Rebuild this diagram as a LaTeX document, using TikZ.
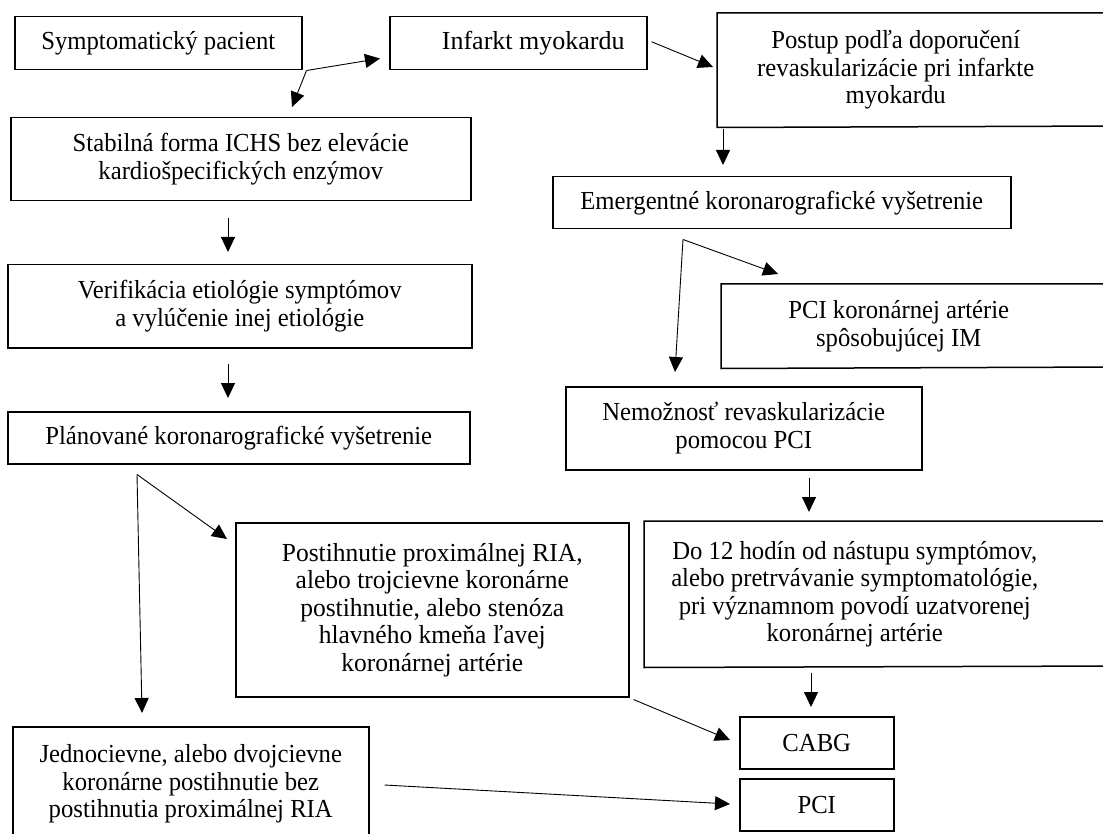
\documentclass[tikz,border=0pt]{standalone}
\usepackage{fontspec}
\setmainfont{Liberation Serif}[FakeStretch=0.95]
\newfontfamily\widerfont{Liberation Serif}[FakeStretch=1.0]
\newfontfamily\midfont{Liberation Serif}[FakeStretch=0.98]
\usetikzlibrary{arrows.meta,calc}
\begin{document}
\begin{tikzpicture}[x=1pt,y=-1pt,
  box/.style={draw, line width=1.5pt, anchor=north west, align=center, inner sep=0pt,
    font=\fontsize{26}{27.5}\selectfont},
  openbox/.style={box, draw=none},
  edge/.style={line width=1.5pt},
  arr/.style={line width=0.9pt, -{Triangle[length=15pt,width=14pt]}}]
\useasboundingbox (0,0) rectangle (1103,834);
\clip (0,0) rectangle (1103,834);
% left column
\node[box, minimum width=287pt, minimum height=53pt] (sym) at (14,16) {Symptomatický pacient};
\node[box, minimum width=460pt, minimum height=83pt] (stab) at (10,117) {Stabilná forma ICHS bez elevácie\\kardiošpecifických enzýmov};
\node[box, minimum width=464pt, minimum height=83pt] (verif) at (7,264) {Verifikácia etiológie symptómov\\a vylúčenie inej etiológie};
\node[box, minimum width=462pt, minimum height=52pt] (plan) at (7,411) {Plánované koronarografické vyšetrenie};
\node[box, minimum width=393pt, minimum height=174pt, font=\fontsize{26}{27.5}\midfont] (postih) at (235,522) {Postihnutie proximálnej RIA,\\alebo trojcievne koronárne\\postihnutie, alebo stenóza\\hlavného kmeňa ľavej\\koronárnej artérie};
\node[box, minimum width=356pt, minimum height=114pt] (jedn) at (12,726) {Jednocievne, alebo dvojcievne\\koronárne postihnutie bez\\postihnutia proximálnej RIA};
% right column
\node[box, minimum width=257pt, minimum height=53pt, font=\fontsize{26}{27.5}\widerfont] (inf) at (389,16) {\hspace*{30pt}Infarkt myokardu};
\node[openbox, minimum width=356pt, minimum height=113pt] (post) at (717,13) {Postup podľa doporučení\\revaskularizácie pri infarkte\\myokardu};
\node[box, minimum width=458pt, minimum height=52pt] (emerg) at (552,176) {Emergentné koronarografické vyšetrenie};
\node[openbox, minimum width=354pt, minimum height=83pt] (pcik) at (721,284) {PCI koronárnej artérie\\spôsobujúcej IM};
\node[box, minimum width=356pt, minimum height=83pt] (nemoz) at (565,386) {Nemožnosť revaskularizácie\\pomocou PCI};
\node[openbox, minimum width=420pt, minimum height=145pt] (do12) at (644,521) {Do 12 hodín od nástupu symptómov,\\alebo pretrvávanie symptomatológie,\\pri významnom povodí uzatvorenej\\koronárnej artérie};
\node[box, minimum width=154pt, minimum height=52pt] (cabg) at (739,716) {CABG};
\node[box, minimum width=154pt, minimum height=52pt] (pci) at (739,778) {PCI};
% boxes that run past the right edge of the picture
\draw[edge] (1120,13) -| (post.south west) -- (1120,126);
\draw[edge] (1120,284) -| (pcik.south west) -- (1120,367);
\draw[edge] (1120,521) -| (do12.south west) -- (1120,666);
% fork points
\coordinate (s0) at ($(sym.south east)+(4,0)$);
\coordinate (f1) at ($(emerg.south west)+(131,10)$);
\coordinate (f2) at ($(plan.south west)+(130,10)$);
% connectors
\draw[arr] (s0) -- ($(inf.south west)+(-9,-12)$);
\draw[arr] (s0) -- ($(stab.north west)+(282,-10)$);
\draw[arr] ($(inf.east)+(4,-1.5)$) -- ($(post.north west)+(-4,54)$);
\draw[arr] ($(post.south west)+(6,2)$) -- ($(emerg.north west)+(171,-11)$);
\draw[arr] (f1) -- ($(pcik.north west)+(57,-10)$);
\draw[arr] (f1) -- ($(nemoz.north west)+(110,-14)$);
\draw[arr] ($(nemoz.south west)+(244,7)$) -- ($(do12.north west)+(165,-9)$);
\draw[arr] ($(do12.south west)+(167,5)$) -- ($(cabg.north west)+(72,-9)$);
\draw[arr] ($(stab.south west)+(218,17)$) -- ($(verif.north west)+(221,-12)$);
\draw[arr] ($(verif.south west)+(221,15)$) -- ($(plan.north west)+(221,-13)$);
\draw[arr] (f2) -- ($(postih.north west)+(-8,17)$);
\draw[arr] (f2) -- ($(jedn.north west)+(130,-13)$);
\draw[arr] ($(postih.south east)+(4,2)$) -- ($(cabg.north west)+(-9,24)$);
\draw[arr] ($(jedn.north east)+(15,59)$) -- ($(pci.north west)+(-9,26)$);
\end{tikzpicture}
\end{document}
